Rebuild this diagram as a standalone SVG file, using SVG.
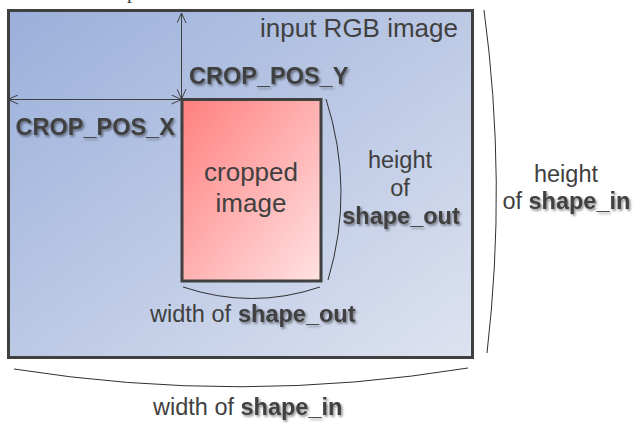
<svg xmlns="http://www.w3.org/2000/svg" width="633" height="423" viewBox="0 0 633 423">
<defs>
<linearGradient id="gOuter" x1="0" y1="0" x2="1" y2="1">
<stop offset="0" stop-color="#9AAFDA"/>
<stop offset="1" stop-color="#DEE3F0"/>
</linearGradient>
<linearGradient id="gInner" x1="0" y1="0" x2="1" y2="1">
<stop offset="0" stop-color="#FF7F7F"/>
<stop offset="1" stop-color="#FFE2E2"/>
</linearGradient>
<filter id="shadow" x="-10%" y="-30%" width="120%" height="160%">
<feDropShadow dx="1.5" dy="1.8" stdDeviation="1.1" flood-color="#000" flood-opacity="0.45"/>
</filter>
<marker id="arr" viewBox="0 0 12 10" refX="11" refY="5" markerWidth="12" markerHeight="10" markerUnits="userSpaceOnUse" orient="auto-start-reverse">
<path d="M1,0.5 L11,5 L1,9.5" fill="none" stroke="#404040" stroke-width="1"/>
</marker>
</defs>
<style>
text{font-family:"Liberation Sans",Arial,sans-serif;fill:#404040}
.big{font-size:26px}
.lab{font-size:23.5px}
.b{font-weight:bold;font-size:23.5px;filter:url(#shadow)}
.frame{stroke:#404040;stroke-width:3}
.brace{fill:none;stroke:#303030;stroke-width:1}
.dim{fill:none;stroke:#404040;stroke-width:1}
</style>
<text x="127" y="-2" style="font-family:'Liberation Serif','Times New Roman',serif;font-size:20px">p</text>
<g id="input-image">
<rect class="frame" x="8.5" y="10.5" width="464" height="347" fill="url(#gOuter)"/>
<text class="big" x="458" y="37" text-anchor="end">input RGB image</text>
</g>
<g id="cropped-image">
<rect class="frame" x="182" y="99.5" width="139" height="181.5" fill="url(#gInner)"/>
<text class="big" x="251" y="181" text-anchor="middle">cropped</text>
<text class="big" x="251" y="212" text-anchor="middle">image</text>
</g>
<g id="connectors">
<line class="dim" x1="181.5" y1="13" x2="181.5" y2="99" marker-start="url(#arr)" marker-end="url(#arr)"/>
<line class="dim" x1="8" y1="99.5" x2="181.5" y2="99.5" marker-start="url(#arr)" marker-end="url(#arr)"/>
<path class="brace" d="M326,99 Q355,190 328,280"/>
<path class="brace" d="M183,287 Q252,310 320,287"/>
<path class="brace" d="M484,10 Q507,181 487,353"/>
<path class="brace" d="M14,369 Q241,405 468,368"/>
</g>
<g id="label-crop-pos-y">
<text class="b" x="189" y="83.5">CROP_POS_Y</text>
</g>
<g id="label-crop-pos-x">
<text class="b" x="15.5" y="135">CROP_POS_X</text>
</g>
<g id="label-height-out">
<text class="lab" x="400" y="168" text-anchor="middle">height</text>
<text class="lab" x="400" y="196" text-anchor="middle">of</text>
<text class="b" x="401" y="224" text-anchor="middle">shape_out</text>
</g>
<g id="label-width-out">
<text class="lab" x="150" y="322">width of</text>
<text class="b" x="238" y="322">shape_out</text>
</g>
<g id="label-height-in">
<text class="lab" x="566" y="182" text-anchor="middle">height</text>
<text class="lab" x="502.5" y="208.5">of</text>
<text class="b" x="528.5" y="208.5">shape_in</text>
</g>
<g id="label-width-in">
<text class="lab" x="153" y="415">width of</text>
<text class="b" x="240.5" y="415">shape_in</text>
</g>
</svg>
